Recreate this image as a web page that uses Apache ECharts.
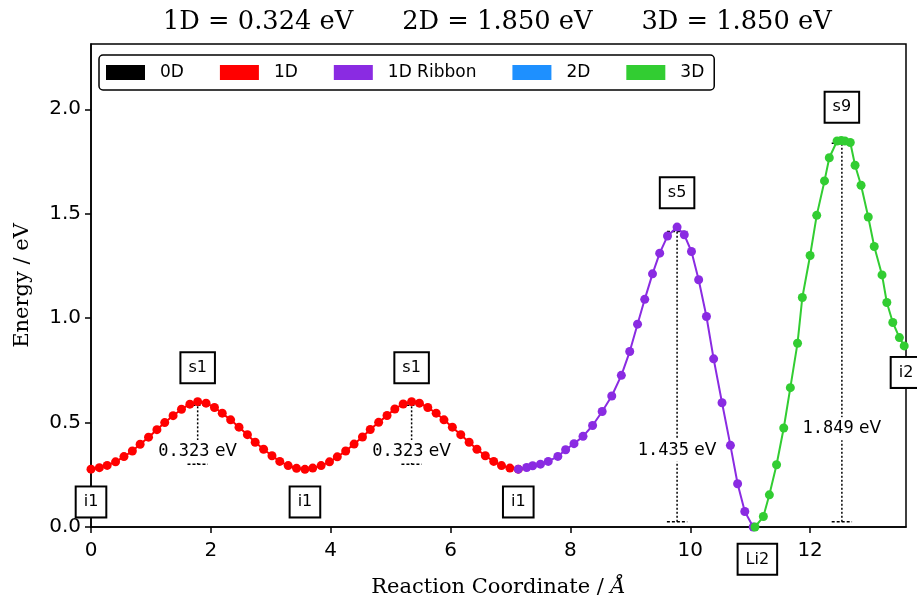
<!DOCTYPE html>
<html>
<head>
<meta charset="utf-8">
<script src="https://cdn.jsdelivr.net/npm/echarts@6/dist/echarts.min.js"></script>
<style>
html, body { margin: 0; padding: 0; background: #fff; }
#the-echart { width: 917px; height: 598px; }
</style>
</head>
<body>
<div id="the-echart"></div>
<script>
// red 1D path
const redX = [0, 0.14, 0.27, 0.41, 0.55, 0.69, 0.82, 0.96, 1.10, 1.23, 1.37, 1.51, 1.65, 1.78,
  1.92, 2.06, 2.19, 2.33, 2.47, 2.61, 2.74, 2.88, 3.02, 3.15, 3.29, 3.43, 3.57,
  3.70, 3.84, 3.98, 4.11, 4.25, 4.39, 4.53, 4.66, 4.80, 4.94, 5.07, 5.21, 5.35,
  5.48, 5.62, 5.76, 5.89, 6.03, 6.17, 6.31, 6.44, 6.58, 6.72, 6.85, 6.99, 7.13]
const redY = [0.277, 0.284, 0.295, 0.312, 0.337, 0.364, 0.396, 0.430, 0.466, 0.500, 0.533, 0.564, 0.588, 0.600,
  0.593, 0.572, 0.545, 0.513, 0.478, 0.442, 0.406, 0.372, 0.341, 0.314, 0.294, 0.281, 0.276,
  0.282, 0.294, 0.312, 0.336, 0.364, 0.397, 0.431, 0.467, 0.501, 0.534, 0.565, 0.589, 0.600,
  0.593, 0.572, 0.545, 0.513, 0.478, 0.442, 0.406, 0.372, 0.341, 0.314, 0.294, 0.282, 0.277]
// 1D ribbon
const purX = [7.13, 7.27, 7.37, 7.50, 7.63, 7.79, 7.92, 8.06, 8.21, 8.37, 8.53, 8.69, 8.85, 8.99, 9.12,
  9.24, 9.37, 9.49, 9.62, 9.78, 9.90, 10.02, 10.14, 10.27, 10.39, 10.53, 10.67, 10.79, 10.91, 11.05]
const purY = [0.277, 0.285, 0.293, 0.301, 0.314, 0.338, 0.370, 0.399, 0.434, 0.486, 0.553, 0.627, 0.726, 0.840, 0.971,
  1.090, 1.212, 1.311, 1.393, 1.436, 1.399, 1.319, 1.184, 1.008, 0.805, 0.595, 0.391, 0.207, 0.074, 0.0]
// 3D
const grnX = [11.08, 11.22, 11.32, 11.44, 11.56, 11.67, 11.79, 11.87, 12.00, 12.11, 12.24, 12.32, 12.45,
  12.52, 12.58, 12.67, 12.75, 12.85, 12.97, 13.07, 13.20, 13.28, 13.38, 13.49, 13.57]
const grnY = [0.0, 0.050, 0.154, 0.298, 0.474, 0.667, 0.880, 1.099, 1.300, 1.492, 1.657, 1.768, 1.848,
  1.850, 1.848, 1.841, 1.732, 1.636, 1.484, 1.343, 1.207, 1.075, 0.979, 0.907, 0.867]

// boxed image labels
const labText = ['i1', 's1', 'i1', 's1', 'i1', 's5', 'Li2', 's9', 'i2']
const labX = [0, 1.78, 3.57, 5.35, 7.13, 9.78, 11.12, 12.53, 13.6]
const labY = [0.12, 0.763, 0.12, 0.763, 0.12, 1.60, -0.155, 2.01, 0.74]

// barrier markers
const barX = [1.78, 5.35, 9.78, 12.53]
const barLow = [0.30, 0.30, 0.025, 0.025]
const barHigh = [0.583, 0.583, 1.415, 1.837]
const barVal = ['0.323', '0.323', '1.435', '1.849']
const barTextY = [0.362, 0.362, 0.367, 0.47]

const legendNames = ['0D', '1D', '1D Ribbon', '2D', '3D']
const legendColors = ['#000000', '#ff0000', '#8a2be2', '#1e90ff', '#32cd32']

const xTicks = [0, 2, 4, 6, 8, 10, 12]
const yTicks = [0, 0.5, 1.0, 1.5, 2.0]

function pairs(xs, ys) {
  return xs.map((x, i) => [x, ys[i]])
}

function pathSeries(name, color, data) {
  return {
    name: name,
    type: 'line',
    z: 3,
    data: data,
    color: color,
    symbol: 'circle',
    symbolSize: 9,
    showSymbol: true,
    lineStyle: {width: 2, color: color},
    itemStyle: {color: color}
  }
}

let series = [
  pathSeries('0D', legendColors[0], []),
  pathSeries('1D', legendColors[1], pairs(redX, redY)),
  pathSeries('1D Ribbon', legendColors[2], pairs(purX, purY)),
  pathSeries('2D', legendColors[3], []),
  pathSeries('3D', legendColors[4], pairs(grnX, grnY))
]

barX.forEach((x, i) => {
  const dotted = {color: '#000', width: 1.5, type: [2, 2]}
  const dashed = {color: '#000', width: 1.5, type: [3, 2]}
  series.push({
    type: 'line', z: 1, symbol: 'none', silent: true,
    data: [[x, barLow[i]], [x, barHigh[i]]],
    lineStyle: dotted
  })
  series.push({
    type: 'line', z: 1, symbol: 'none', silent: true,
    data: [[x - 0.17, barHigh[i]], [x + 0.17, barHigh[i]]],
    lineStyle: dashed
  })
  series.push({
    type: 'line', z: 1, symbol: 'none', silent: true,
    data: [[x - 0.17, barLow[i]], [x + 0.17, barLow[i]]],
    lineStyle: dashed
  })
})

series.push({
  type: 'scatter', z: 2, silent: true, clip: false,
  symbolSize: 1,
  itemStyle: {color: 'transparent', opacity: 1},
  data: barX.map((x, i) => ({value: [x, barTextY[i]], txt: barVal[i]})),
  labelLayout: {hideOverlap: false},
  label: {
    show: true,
    position: 'inside',
    backgroundColor: '#fff',
    padding: [3, 1],
    formatter: p => '{m|' + p.data.txt + '}{s| eV}',
    rich: {
      m: {fontFamily: 'DejaVu Sans Mono', fontSize: 17, color: '#000'},
      s: {fontFamily: 'DejaVu Sans', fontSize: 17, color: '#000'}
    }
  }
})

series.push({
  type: 'scatter', z: 4, silent: true, clip: false,
  symbolSize: 1,
  itemStyle: {color: 'transparent', opacity: 1},
  data: labX.map((x, i) => ({value: [x, labY[i]], name: labText[i]})),
  labelLayout: {hideOverlap: false},
  label: {
    show: true,
    position: 'inside',
    formatter: '{b}',
    fontFamily: 'DejaVu Sans',
    fontSize: 16,
    color: '#000',
    backgroundColor: '#fff',
    borderColor: '#000',
    borderWidth: 2,
    padding: [7, 7, 6, 7]
  }
})

const chart = echarts.init(document.getElementById('the-echart'))
chart.setOption({
  animation: false,
  backgroundColor: '#fff',
  title: {
    text: '1D = 0.324 eV      2D = 1.850 eV      3D = 1.850 eV',
    left: 163,
    top: 9,
    padding: 0,
    textStyle: {fontFamily: 'DejaVu Serif', fontSize: 25.7, fontWeight: 'normal', color: '#000'}
  },
  legend: {
    data: legendNames,
    left: 99,
    top: 55,
    orient: 'horizontal',
    icon: 'rect',
    itemWidth: 39,
    itemHeight: 15,
    itemGap: 36,
    padding: [9, 10, 9, 7],
    borderColor: '#000',
    borderWidth: 1.5,
    borderRadius: 4,
    backgroundColor: '#fff',
    z: 5,
    textStyle: {fontFamily: 'DejaVu Sans', fontSize: 17, color: '#000', padding: [0, 0, 0, 10]}
  },
  grid: {
    left: 91, right: 11, top: 44, bottom: 71,
    outerBoundsMode: 'none',
    containLabel: false,
    show: true, borderColor: '#000', borderWidth: 1.5, backgroundColor: 'transparent'
  },
  xAxis: {
    type: 'value',
    min: 0,
    max: 13.6,
    name: 'Reaction Coordinate / {i|Å}',
    nameLocation: 'middle',
    nameGap: 50,
    nameTextStyle: {
      fontFamily: 'DejaVu Serif', fontSize: 21, color: '#000',
      rich: {i: {fontFamily: 'DejaVu Serif', fontStyle: 'italic', fontSize: 21, color: '#000'}}
    },
    splitLine: {show: false},
    axisLine: {show: true, onZero: false, lineStyle: {color: '#000', width: 1.5}},
    axisTick: {show: true, length: 6, customValues: xTicks, lineStyle: {color: '#000', width: 1.5}},
    axisLabel: {customValues: xTicks, margin: 14, fontFamily: 'DejaVu Sans', fontSize: 20, color: '#000'}
  },
  yAxis: {
    type: 'value',
    min: 0,
    max: 2.3125,
    name: 'Energy / eV',
    nameLocation: 'middle',
    nameGap: 58,
    nameTextStyle: {fontFamily: 'DejaVu Serif', fontSize: 21, color: '#000'},
    splitLine: {show: false},
    axisLine: {show: true, onZero: false, lineStyle: {color: '#000', width: 1.5}},
    axisTick: {show: true, length: 6, customValues: yTicks, lineStyle: {color: '#000', width: 1.5}},
    axisLabel: {
      customValues: yTicks, margin: 10, fontFamily: 'DejaVu Sans', fontSize: 20, color: '#000',
      formatter: v => v.toFixed(1)
    }
  },
  series: series
})
</script>
</body>
</html>
